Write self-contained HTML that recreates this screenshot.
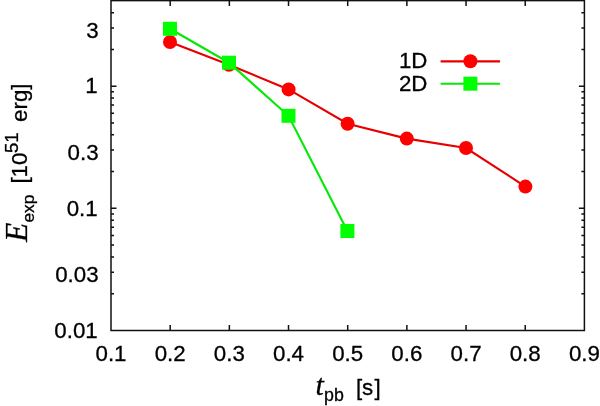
<!DOCTYPE html><html><head><meta charset="utf-8"><title>plot</title>
<style>html,body{margin:0;padding:0;background:#fff}svg{display:block}text{stroke:#000;stroke-width:0.3px;font-family:"Liberation Sans",Arial,Helvetica,sans-serif;fill:#000}.it{font-family:"Liberation Serif","Times New Roman",serif;font-style:italic}</style></head><body>
<svg width="600" height="406" viewBox="0 0 600 406">
<rect width="600" height="406" fill="#fff"/>
<g stroke="#111" stroke-width="1.5" fill="none">
<rect x="111.0" y="0.6" width="473.4" height="329.9"/>
<path d="M170.18 330.5v-5.5M170.18 0.6v5.5"/>
<path d="M229.35 330.5v-5.5M229.35 0.6v5.5"/>
<path d="M288.52 330.5v-5.5M288.52 0.6v5.5"/>
<path d="M347.70 330.5v-5.5M347.70 0.6v5.5"/>
<path d="M406.87 330.5v-5.5M406.87 0.6v5.5"/>
<path d="M466.05 330.5v-5.5M466.05 0.6v5.5"/>
<path d="M525.22 330.5v-5.5M525.22 0.6v5.5"/>
<path d="M111.0 293.73h3M584.4 293.73h-3"/>
<path d="M111.0 272.22h3M584.4 272.22h-3"/>
<path d="M111.0 256.96h3M584.4 256.96h-3"/>
<path d="M111.0 245.12h3M584.4 245.12h-3"/>
<path d="M111.0 235.45h3M584.4 235.45h-3"/>
<path d="M111.0 227.27h3M584.4 227.27h-3"/>
<path d="M111.0 220.19h3M584.4 220.19h-3"/>
<path d="M111.0 213.94h3M584.4 213.94h-3"/>
<path d="M111.0 208.35h5.5M584.4 208.35h-5.5"/>
<path d="M111.0 171.58h3M584.4 171.58h-3"/>
<path d="M111.0 150.07h3M584.4 150.07h-3"/>
<path d="M111.0 134.81h3M584.4 134.81h-3"/>
<path d="M111.0 122.97h3M584.4 122.97h-3"/>
<path d="M111.0 113.30h3M584.4 113.30h-3"/>
<path d="M111.0 105.12h3M584.4 105.12h-3"/>
<path d="M111.0 98.04h3M584.4 98.04h-3"/>
<path d="M111.0 91.79h3M584.4 91.79h-3"/>
<path d="M111.0 86.20h5.5M584.4 86.20h-5.5"/>
<path d="M111.0 49.43h3M584.4 49.43h-3"/>
<path d="M111.0 27.92h3M584.4 27.92h-3"/>
<path d="M111.0 12.66h3M584.4 12.66h-3"/>
</g>
<polyline fill="none" stroke="#e80000" stroke-width="2.15" points="170,42 229,64.7 288.6,89.4 347.6,123.7 406.8,138.6 466,148 525.4,186.6"/>
<circle cx="170" cy="42" r="7" fill="#f00"/>
<circle cx="229" cy="64.7" r="7" fill="#f00"/>
<circle cx="288.6" cy="89.4" r="7" fill="#f00"/>
<circle cx="347.6" cy="123.7" r="7" fill="#f00"/>
<circle cx="406.8" cy="138.6" r="7" fill="#f00"/>
<circle cx="466" cy="148" r="7" fill="#f00"/>
<circle cx="525.4" cy="186.6" r="7" fill="#f00"/>
<polyline fill="none" stroke="#08e808" stroke-width="2.15" points="170,28.8 229,62.7 288.5,115.8 347.4,231"/>
<rect x="163" y="21.8" width="14" height="14" fill="#0f0"/>
<rect x="222" y="55.7" width="14" height="14" fill="#0f0"/>
<rect x="281.5" y="108.8" width="14" height="14" fill="#0f0"/>
<rect x="340.4" y="224" width="14" height="14" fill="#0f0"/>
<path d="M440.6 61.3H500" stroke="#e80000" stroke-width="2.15"/><circle cx="470.4" cy="61.3" r="7" fill="#f00"/>
<path d="M440.6 83.7H500" stroke="#08e808" stroke-width="2.15"/><rect x="463.4" y="76.7" width="14" height="14" fill="#0f0"/>
<text transform="translate(427.4 68.45) scale(1.0 1)" font-size="22.3" text-anchor="end">1D</text>
<text transform="translate(427.4 91.3) scale(1.0 1)" font-size="22.3" text-anchor="end">2D</text>
<text transform="translate(111.0 360.5) scale(1.0 1)" font-size="22.3" text-anchor="middle">0.1</text>
<text transform="translate(170.18 360.5) scale(1.0 1)" font-size="22.3" text-anchor="middle">0.2</text>
<text transform="translate(229.35 360.5) scale(1.0 1)" font-size="22.3" text-anchor="middle">0.3</text>
<text transform="translate(288.52 360.5) scale(1.0 1)" font-size="22.3" text-anchor="middle">0.4</text>
<text transform="translate(347.7 360.5) scale(1.0 1)" font-size="22.3" text-anchor="middle">0.5</text>
<text transform="translate(406.87 360.5) scale(1.0 1)" font-size="22.3" text-anchor="middle">0.6</text>
<text transform="translate(466.05 360.5) scale(1.0 1)" font-size="22.3" text-anchor="middle">0.7</text>
<text transform="translate(525.22 360.5) scale(1.0 1)" font-size="22.3" text-anchor="middle">0.8</text>
<text transform="translate(584.4 360.5) scale(1.0 1)" font-size="22.3" text-anchor="middle">0.9</text>
<text transform="translate(98.6 37.62) scale(1.0 1)" font-size="22.3" text-anchor="end">3</text>
<text transform="translate(97.7 93.4) scale(1.0 1)" font-size="22.3" text-anchor="end">1</text>
<text transform="translate(98.6 159.77) scale(1.0 1)" font-size="22.3" text-anchor="end">0.3</text>
<text transform="translate(97.7 215.55) scale(1.0 1)" font-size="22.3" text-anchor="end">0.1</text>
<text transform="translate(98.6 281.92) scale(1.0 1)" font-size="22.3" text-anchor="end">0.03</text>
<text transform="translate(97.7 337.7) scale(1.0 1)" font-size="22.3" text-anchor="end">0.01</text>
<text transform="translate(315.5 395.4) scale(1.0 1)" font-size="22.3" text-anchor="start"><tspan class="it" font-size="30">t</tspan><tspan dy="5.9" dx="0.2" font-size="17.8">pb</tspan><tspan dy="-5.9" dx="5.9">&#160;[s</tspan><tspan dx="1.3">]</tspan></text>
<text transform="translate(27.1 242.1) scale(1.0 1) rotate(-90)" font-size="22.3"><tspan class="it" font-size="31.5">E</tspan><tspan dy="6.5" dx="0.3" font-size="17.4">exp</tspan><tspan dy="-6.5" dx="4.7">&#160;[10</tspan><tspan dy="-9.6" dx="-0.5" font-size="18.5">51</tspan><tspan dy="9.6" dx="4.4">&#160;erg]</tspan></text>
</svg></body></html>
